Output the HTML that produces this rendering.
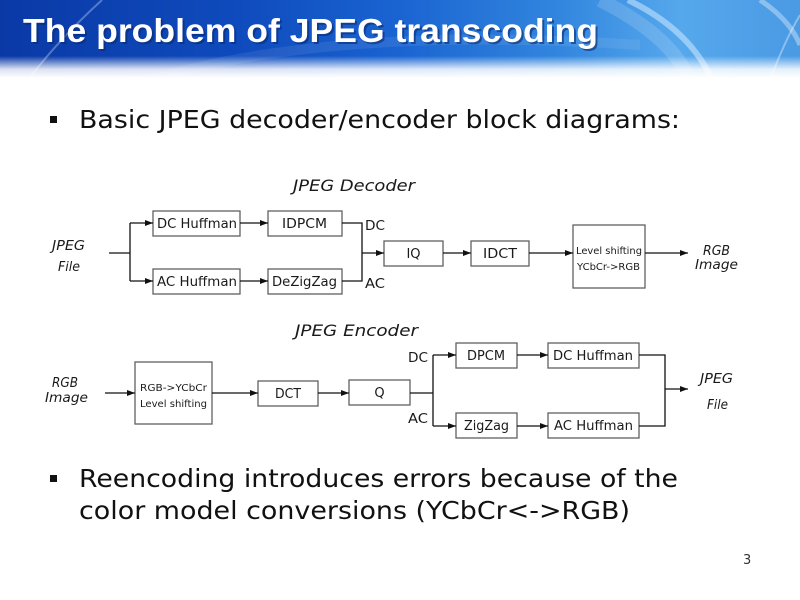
<!DOCTYPE html>
<html><head><meta charset="utf-8"><style>
html,body{margin:0;padding:0;background:#fff;}
svg{display:block;}
.b{font-family:"DejaVu Sans","Liberation Sans",sans-serif;fill:#111;}
.d{font-family:"DejaVu Sans","Liberation Sans",sans-serif;fill:#1a1a1a;font-size:13px;}
.s{font-size:10px;}
.i{font-style:italic;}
.box{fill:#fff;stroke:#606060;stroke-width:1.3;}
.ln{fill:none;stroke:#111;stroke-width:1.3;}
</style></head><body>
<svg width="800" height="600" viewBox="0 0 800 600" xmlns="http://www.w3.org/2000/svg">
<defs>
<linearGradient id="hg" x1="0" y1="0" x2="1" y2="0">
<stop offset="0" stop-color="#0a39a6"/>
<stop offset="0.3" stop-color="#0f4bbd"/>
<stop offset="0.5" stop-color="#1a64d2"/>
<stop offset="0.7" stop-color="#3286de"/>
<stop offset="0.85" stop-color="#56a8ec"/>
<stop offset="1" stop-color="#4a9ae4"/>
</linearGradient>
<linearGradient id="fg" x1="0" y1="0" x2="0" y2="1">
<stop offset="0" stop-color="#fff" stop-opacity="0"/>
<stop offset="0.6" stop-color="#fff" stop-opacity="0.85"/>
<stop offset="1" stop-color="#fff" stop-opacity="1"/>
</linearGradient>
<marker id="a" viewBox="0 0 8 6" refX="8" refY="3" markerWidth="8" markerHeight="6" markerUnits="userSpaceOnUse" orient="auto">
<path d="M0,0 L8,3 L0,6 z" fill="#111"/>
</marker>
</defs>

<!-- header -->
<rect x="0" y="0" width="800" height="80" fill="url(#hg)"/>
<path d="M28,80 Q60,38 102,0" stroke="#fff" stroke-opacity="0.3" stroke-width="2" fill="none"/>
<path d="M150,80 Q330,25 640,45" stroke="#fff" stroke-opacity="0.08" stroke-width="10" fill="none"/>
<path d="M628,0 Q690,30 712,80" stroke="#cfeaff" stroke-opacity="0.55" stroke-width="6" fill="none"/>
<path d="M600,0 Q670,35 690,80" stroke="#fff" stroke-opacity="0.15" stroke-width="14" fill="none"/>
<path d="M760,0 Q790,20 800,45" stroke="#fff" stroke-opacity="0.35" stroke-width="5" fill="none"/>
<path d="M770,80 Q785,40 800,15" stroke="#fff" stroke-opacity="0.35" stroke-width="2" fill="none"/>
<rect x="0" y="56" width="800" height="22" fill="url(#fg)"/>
<rect x="0" y="78" width="800" height="4" fill="#fff"/>

<text x="25" y="44" font-family="Liberation Sans, sans-serif" font-weight="bold" font-size="33" fill="#0a2a70" fill-opacity="0.6" textLength="575" lengthAdjust="spacingAndGlyphs">The problem of JPEG transcoding</text>
<text x="23" y="42" font-family="Liberation Sans, sans-serif" font-weight="bold" font-size="33" fill="#fff" textLength="575" lengthAdjust="spacingAndGlyphs">The problem of JPEG transcoding</text>

<!-- bullet 1 -->
<rect x="50" y="116" width="7" height="7" fill="#111"/>
<text class="b" x="79" y="128" font-size="25" textLength="601" lengthAdjust="spacingAndGlyphs">Basic JPEG decoder/encoder block diagrams:</text>

<!-- decoder -->
<text class="d i" x="293" y="191" style="font-size:16px" textLength="122" lengthAdjust="spacingAndGlyphs">JPEG Decoder</text>
<text class="d i" x="52" y="250" textLength="33" lengthAdjust="spacingAndGlyphs">JPEG</text>
<text class="d i" x="58" y="271" textLength="22" lengthAdjust="spacingAndGlyphs">File</text>

<rect class="box" x="153" y="211" width="87" height="25"/>
<text class="d" x="157" y="228" textLength="80" lengthAdjust="spacingAndGlyphs">DC Huffman</text>
<rect class="box" x="268" y="211" width="74" height="25"/>
<text class="d" x="282" y="228" textLength="45" lengthAdjust="spacingAndGlyphs">IDPCM</text>
<rect class="box" x="153" y="269" width="87" height="25"/>
<text class="d" x="157" y="286" textLength="80" lengthAdjust="spacingAndGlyphs">AC Huffman</text>
<rect class="box" x="268" y="269" width="74" height="25"/>
<text class="d" x="272" y="286" textLength="65" lengthAdjust="spacingAndGlyphs">DeZigZag</text>

<text class="d" x="365" y="230" textLength="20" lengthAdjust="spacingAndGlyphs">DC</text>
<text class="d" x="365" y="288" textLength="20" lengthAdjust="spacingAndGlyphs">AC</text>

<rect class="box" x="384" y="241" width="59" height="25"/>
<text class="d" x="413.5" y="258" text-anchor="middle">IQ</text>
<rect class="box" x="471" y="241" width="58" height="25"/>
<text class="d" x="483" y="258" textLength="34" lengthAdjust="spacingAndGlyphs">IDCT</text>
<rect class="box" x="573" y="225" width="72" height="63"/>
<text class="d s" x="576" y="254" textLength="66" lengthAdjust="spacingAndGlyphs">Level shifting</text>
<text class="d s" x="577" y="270" textLength="63" lengthAdjust="spacingAndGlyphs">YCbCr-&gt;RGB</text>

<text class="d i" x="703" y="255" textLength="27" lengthAdjust="spacingAndGlyphs">RGB</text>
<text class="d i" x="695" y="269" textLength="43" lengthAdjust="spacingAndGlyphs">Image</text>

<path class="ln" d="M109,253 H130 M130,223 V281"/>
<path class="ln" d="M130,223 H153" marker-end="url(#a)"/>
<path class="ln" d="M130,281 H153" marker-end="url(#a)"/>
<path class="ln" d="M240,223 H268" marker-end="url(#a)"/>
<path class="ln" d="M240,281 H268" marker-end="url(#a)"/>
<path class="ln" d="M342,223 H362 V281 H342"/>
<path class="ln" d="M362,253 H384" marker-end="url(#a)"/>
<path class="ln" d="M443,253 H471" marker-end="url(#a)"/>
<path class="ln" d="M529,253 H573" marker-end="url(#a)"/>
<path class="ln" d="M645,253 H688" marker-end="url(#a)"/>

<!-- encoder -->
<text class="d i" x="295" y="336" style="font-size:16px" textLength="123" lengthAdjust="spacingAndGlyphs">JPEG Encoder</text>
<text class="d i" x="52" y="387" textLength="26" lengthAdjust="spacingAndGlyphs">RGB</text>
<text class="d i" x="45" y="402" textLength="43" lengthAdjust="spacingAndGlyphs">Image</text>

<rect class="box" x="135" y="362" width="77" height="62"/>
<text class="d s" x="140" y="391" textLength="67" lengthAdjust="spacingAndGlyphs">RGB-&gt;YCbCr</text>
<text class="d s" x="140" y="407" textLength="67" lengthAdjust="spacingAndGlyphs">Level shifting</text>
<rect class="box" x="258" y="381" width="60" height="25"/>
<text class="d" x="275" y="398" textLength="26" lengthAdjust="spacingAndGlyphs">DCT</text>
<rect class="box" x="349" y="380" width="61" height="25"/>
<text class="d" x="379.5" y="397" text-anchor="middle">Q</text>

<text class="d" x="408" y="362" textLength="20" lengthAdjust="spacingAndGlyphs">DC</text>
<text class="d" x="408" y="423" textLength="20" lengthAdjust="spacingAndGlyphs">AC</text>

<rect class="box" x="456" y="343" width="61" height="25"/>
<text class="d" x="467" y="360" textLength="38" lengthAdjust="spacingAndGlyphs">DPCM</text>
<rect class="box" x="548" y="343" width="91" height="25"/>
<text class="d" x="553" y="360" textLength="80" lengthAdjust="spacingAndGlyphs">DC Huffman</text>
<rect class="box" x="456" y="413" width="61" height="25"/>
<text class="d" x="464" y="430" textLength="45" lengthAdjust="spacingAndGlyphs">ZigZag</text>
<rect class="box" x="548" y="413" width="91" height="25"/>
<text class="d" x="554" y="430" textLength="79" lengthAdjust="spacingAndGlyphs">AC Huffman</text>

<text class="d i" x="700" y="383" textLength="33" lengthAdjust="spacingAndGlyphs">JPEG</text>
<text class="d i" x="707" y="409" textLength="21" lengthAdjust="spacingAndGlyphs">File</text>

<path class="ln" d="M105,393 H135" marker-end="url(#a)"/>
<path class="ln" d="M212,393 H258" marker-end="url(#a)"/>
<path class="ln" d="M318,393 H349" marker-end="url(#a)"/>
<path class="ln" d="M410,393 H433 M433,355 V426"/>
<path class="ln" d="M433,355 H456" marker-end="url(#a)"/>
<path class="ln" d="M433,426 H456" marker-end="url(#a)"/>
<path class="ln" d="M517,355 H548" marker-end="url(#a)"/>
<path class="ln" d="M517,426 H548" marker-end="url(#a)"/>
<path class="ln" d="M639,355 H665 V426 H639"/>
<path class="ln" d="M665,389 H688" marker-end="url(#a)"/>

<!-- bullet 2 -->
<rect x="50" y="475" width="7" height="7" fill="#111"/>
<text class="b" x="79" y="487" font-size="25" textLength="599" lengthAdjust="spacingAndGlyphs">Reencoding introduces errors because of the</text>
<text class="b" x="79" y="519" font-size="25" textLength="551" lengthAdjust="spacingAndGlyphs">color model conversions (YCbCr&lt;-&gt;RGB)</text>

<text class="d" x="743" y="564" style="fill:#333">3</text>
</svg>
</body></html>
